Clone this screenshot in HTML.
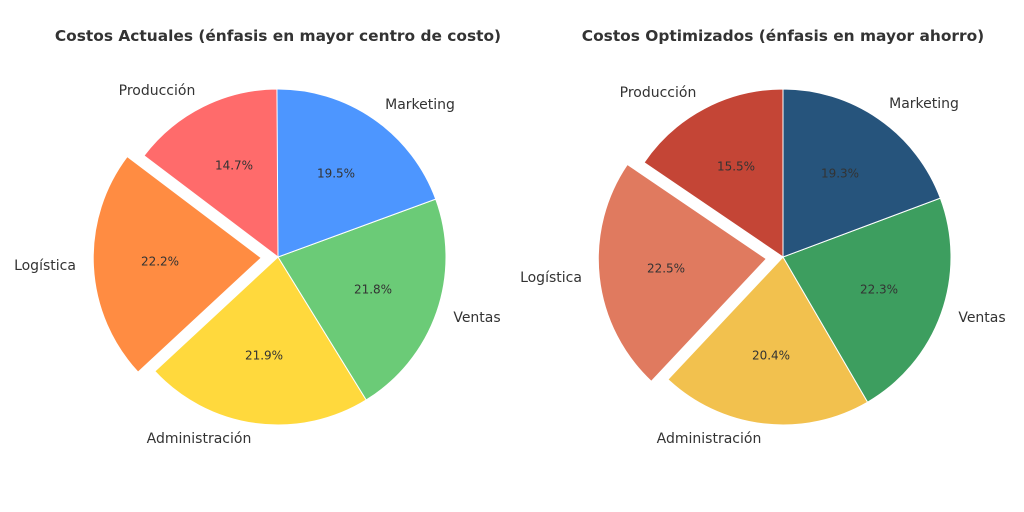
<!DOCTYPE html>
<html><head><meta charset="utf-8"><style>
html,body{margin:0;padding:0;background:#fff;}
svg{display:block;font-family:"DejaVu Sans","Liberation Sans",sans-serif;}
.t{font-weight:bold;font-size:15.4px;fill:#333;}
.l{font-size:14px;fill:#333;}
.p{font-size:12px;fill:#333;}
</style></head><body>
<svg id="s" width="1024" height="512" viewBox="0 0 1024 512">
<rect width="1024" height="512" fill="#fff"/>
<g id="w"></g>
<text class="t" x="278" y="41" text-anchor="middle">Costos Actuales (énfasis en mayor centro de costo)</text>
<text class="t" x="783" y="41" text-anchor="middle">Costos Optimizados (énfasis en mayor ahorro)</text>
<g text-anchor="middle" dominant-baseline="middle">
<text class="l" x="157" y="91">Producción</text>
<text class="l" x="45" y="266">Logística</text>
<text class="l" x="199" y="439">Administración</text>
<text class="l" x="477" y="318">Ventas</text>
<text class="l" x="420" y="105">Marketing</text>
<text class="p" x="234" y="166">14.7%</text>
<text class="p" x="160" y="262">22.2%</text>
<text class="p" x="264" y="356">21.9%</text>
<text class="p" x="373" y="290">21.8%</text>
<text class="p" x="336" y="174">19.5%</text>
<text class="l" x="658" y="93">Producción</text>
<text class="l" x="551" y="278">Logística</text>
<text class="l" x="709" y="439">Administración</text>
<text class="l" x="982" y="318">Ventas</text>
<text class="l" x="924" y="104">Marketing</text>
<text class="p" x="736" y="167">15.5%</text>
<text class="p" x="666" y="269">22.5%</text>
<text class="p" x="771" y="356">20.4%</text>
<text class="p" x="879" y="290">22.3%</text>
<text class="p" x="840" y="174">19.3%</text>
</g>
</svg>
<script>
function pie(cx,cy,r,vals,cols,exp){
 var g=document.getElementById('w'),a=90,s='';
 vals.forEach(function(v,i){
  var a2=a+v*3.6,m=(a+a2)/2*Math.PI/180,ox=0,oy=0;
  if(i==exp){ox=0.1*r*Math.cos(m);oy=-0.1*r*Math.sin(m);}
  var x=cx+ox,y=cy+oy,r1=a*Math.PI/180,r2=a2*Math.PI/180;
  var d='M'+x+','+y+' L'+(x+r*Math.cos(r1))+','+(y-r*Math.sin(r1))+
   ' A'+r+','+r+' 0 '+(v*3.6>180?1:0)+' 0 '+(x+r*Math.cos(r2))+','+(y-r*Math.sin(r2))+' Z';
  s+='<path d="'+d+'" fill="'+cols[i]+'" stroke="#fff" stroke-width="1"/>';
  a=a2;
 });
 g.innerHTML+=s;
}
pie(278,257,168,[14.7,22.2,21.9,21.8,19.5],['#ff6b6b','#ff8c42','#ffd93d','#6bcb77','#4d96ff'],1);
pie(783,257,168,[15.5,22.5,20.4,22.3,19.3],['#c44536','#e07a5f','#f2c14e','#3d9e5f','#26547c'],1);
</script>
</body></html>
